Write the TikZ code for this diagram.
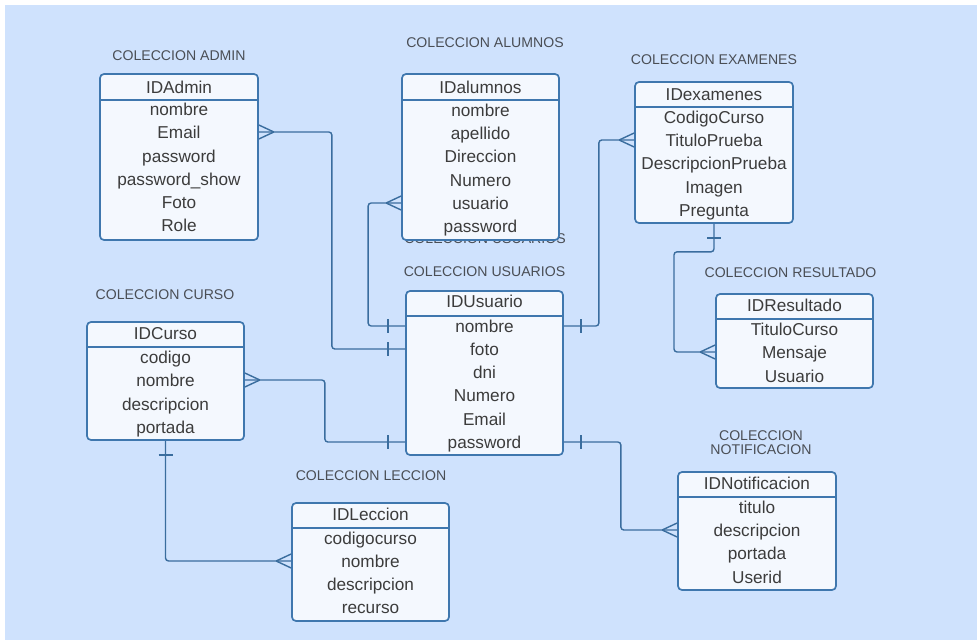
\documentclass[tikz,border=0pt]{standalone}
\usepackage{fontspec}
\setmainfont{Liberation Sans}
\definecolor{bg}{HTML}{CFE2FD}
\definecolor{boxf}{HTML}{F4F8FE}
\definecolor{boxc}{HTML}{3F77AE}
\definecolor{linec}{HTML}{3A6D9E}
\definecolor{txt}{HTML}{3C3C3C}
\definecolor{ttlc}{HTML}{4A4E55}
\newcommand{\crowR}[1]{\draw[foot] (#1) ++(15,0) -- ++(-15,-7) (#1) ++(15,0) -- ++(-15,7);}
\newcommand{\crowL}[1]{\draw[foot] (#1) ++(-15,0) -- ++(15,-7) (#1) ++(-15,0) -- ++(15,7);}
\newcommand{\barR}[1]{\draw[foot] (#1) ++(17,-7) -- ++(0,14);}
\newcommand{\barL}[1]{\draw[foot] (#1) ++(-17,-7) -- ++(0,14);}
\newcommand{\barD}[1]{\draw[foot] (#1) ++(-7,14) -- ++(14,0);}
\begin{document}
\begin{tikzpicture}[x=1pt,y=-1pt,
  tbl/.style={draw=boxc, line width=1.7pt, fill=boxf, rounded corners=4pt, inner sep=0pt},
  hline/.style={draw=boxc, line width=1.7pt},
  rowt/.style={font=\fontsize{17.2}{19}\selectfont, text=txt, inner sep=0pt, text height=13.5pt, text depth=1.5pt},
  ttl/.style={font=\fontsize{14.1}{16}\selectfont, text=ttlc, inner sep=0pt, text height=10pt, text depth=0pt},
  conn/.style={draw=linec, line width=1.4pt, rounded corners=3pt},
  foot/.style={draw=linec, line width=1.4pt}]
\useasboundingbox (0,0) rectangle (977,640);
\fill[white] (0,0) rectangle (977,640);
\fill[bg] (5,5) rectangle (977,640);

% titles
\node[ttl] (t-admin) at (179,55) {COLECCION ADMIN};
\node[ttl] (t-alu) at (485,42) {COLECCION ALUMNOS};
\node[ttl] (t-exa) at (714,59) {COLECCION EXAMENES};
\node[ttl] (t-ghost) at (485,238) {COLECCION USUARIOS};
\node[ttl] (t-usu) at (484.5,271) {COLECCION USUARIOS};
\node[ttl] (t-res) at (790.5,272) {COLECCION RESULTADO};
\node[ttl] (t-cur) at (165,294) {COLECCION CURSO};
\node[ttl] (t-lec) at (371,475) {COLECCION LECCION};
\node[font=\fontsize{14.1}{13.5}\selectfont, text=ttlc, inner sep=0pt, align=center] (t-not) at (761,442.5) {COLECCION\\NOTIFICACION};

% ADMIN
\node[tbl, minimum width=158pt, minimum height=166pt] (admin) at (179,157) {};
\draw[hline] (admin.west |- 0,100) -- (admin.east |- 0,100);
\node[rowt] (admin-h) at (179,87) {IDAdmin};
\foreach \t/\y [count=\i] in {nombre/109, Email/132, password/156, password\_show/179, Foto/202, Role/225}
  \node[rowt] (admin-\i) at (179,\y) {\t};

% ALUMNOS
\node[tbl, minimum width=157pt, minimum height=166pt] (alu) at (480.5,157) {};
\draw[hline] (alu.west |- 0,100) -- (alu.east |- 0,100);
\node[rowt] (alu-h) at (480.5,87) {IDalumnos};
\foreach \t/\y [count=\i] in {nombre/110, apellido/133, Direccion/156, Numero/180, usuario/203, password/226}
  \node[rowt] (alu-\i) at (480.5,\y) {\t};

% EXAMENES
\node[tbl, minimum width=158pt, minimum height=141pt] (exa) at (714,152.5) {};
\draw[hline] (exa.west |- 0,107) -- (exa.east |- 0,107);
\node[rowt] (exa-h) at (714,94) {IDexamenes};
\foreach \t/\y [count=\i] in {CodigoCurso/117, TituloPrueba/140, DescripcionPrueba/163, Imagen/187, Pregunta/210}
  \node[rowt] (exa-\i) at (714,\y) {\t};

% USUARIOS
\node[tbl, minimum width=157pt, minimum height=164pt] (usu) at (484.5,373) {};
\draw[hline] (usu.west |- 0,316) -- (usu.east |- 0,316);
\node[rowt] (usu-h) at (484.5,301) {IDUsuario};
\foreach \t/\y [count=\i] in {nombre/326, foto/349, dni/372, Numero/395, Email/419, password/442}
  \node[rowt] (usu-\i) at (484.5,\y) {\t};

% RESULTADO
\node[tbl, minimum width=157pt, minimum height=94pt] (res) at (794.5,341) {};
\draw[hline] (res.west |- 0,319) -- (res.east |- 0,319);
\node[rowt] (res-h) at (794.5,305) {IDResultado};
\foreach \t/\y [count=\i] in {TituloCurso/329, Mensaje/352, Usuario/376}
  \node[rowt] (res-\i) at (794.5,\y) {\t};

% CURSO
\node[tbl, minimum width=157pt, minimum height=118pt] (cur) at (165.5,381) {};
\draw[hline] (cur.west |- 0,347) -- (cur.east |- 0,347);
\node[rowt] (cur-h) at (165.5,333) {IDCurso};
\foreach \t/\y [count=\i] in {codigo/357, nombre/380, descripcion/404, portada/427}
  \node[rowt] (cur-\i) at (165.5,\y) {\t};

% LECCION
\node[tbl, minimum width=157pt, minimum height=118pt] (lec) at (370.5,562) {};
\draw[hline] (lec.west |- 0,528) -- (lec.east |- 0,528);
\node[rowt] (lec-h) at (370.5,514) {IDLeccion};
\foreach \t/\y [count=\i] in {codigocurso/538, nombre/561, descripcion/584, recurso/607}
  \node[rowt] (lec-\i) at (370.5,\y) {\t};

% NOTIFICACION
\node[tbl, minimum width=158pt, minimum height=118pt] (not) at (757,531) {};
\draw[hline] (not.west |- 0,497) -- (not.east |- 0,497);
\node[rowt] (not-h) at (757,483) {IDNotificacion};
\foreach \t/\y [count=\i] in {titulo/507, descripcion/530, portada/553, Userid/577}
  \node[rowt] (not-\i) at (757,\y) {\t};

% connectors
\draw[conn] (admin.east |- admin-2) -- ++(73,0) |- (usu.west |- usu-2);
\crowR{admin.east |- admin-2}
\barL{usu.west |- usu-2}

\draw[conn] (alu.west |- alu-5) -- ++(-33,0) |- (usu.west |- usu-1);
\crowL{alu.west |- alu-5}
\barL{usu.west |- usu-1}

\draw[conn] (usu.east |- usu-1) -- ++(35,0) |- (exa.west |- exa-2);
\barR{usu.east |- usu-1}
\crowL{exa.west |- exa-2}

\draw[conn] (exa.south) -- ++(0,28) -- ++(-40,0) |- (res.west |- res-2);
\barD{exa.south}
\crowL{res.west |- res-2}

\draw[conn] (cur.east |- cur-2) -- ++(80,0) |- (usu.west |- usu-6);
\crowR{cur.east |- cur-2}
\barL{usu.west |- usu-6}

\draw[conn] (cur.south) |- (lec.west |- lec-2);
\barD{cur.south}
\crowL{lec.west |- lec-2}

\draw[conn] (usu.east |- usu-6) -- ++(57,0) |- (not.west |- not-2);
\barR{usu.east |- usu-6}
\crowL{not.west |- not-2}
\end{tikzpicture}
\end{document}
